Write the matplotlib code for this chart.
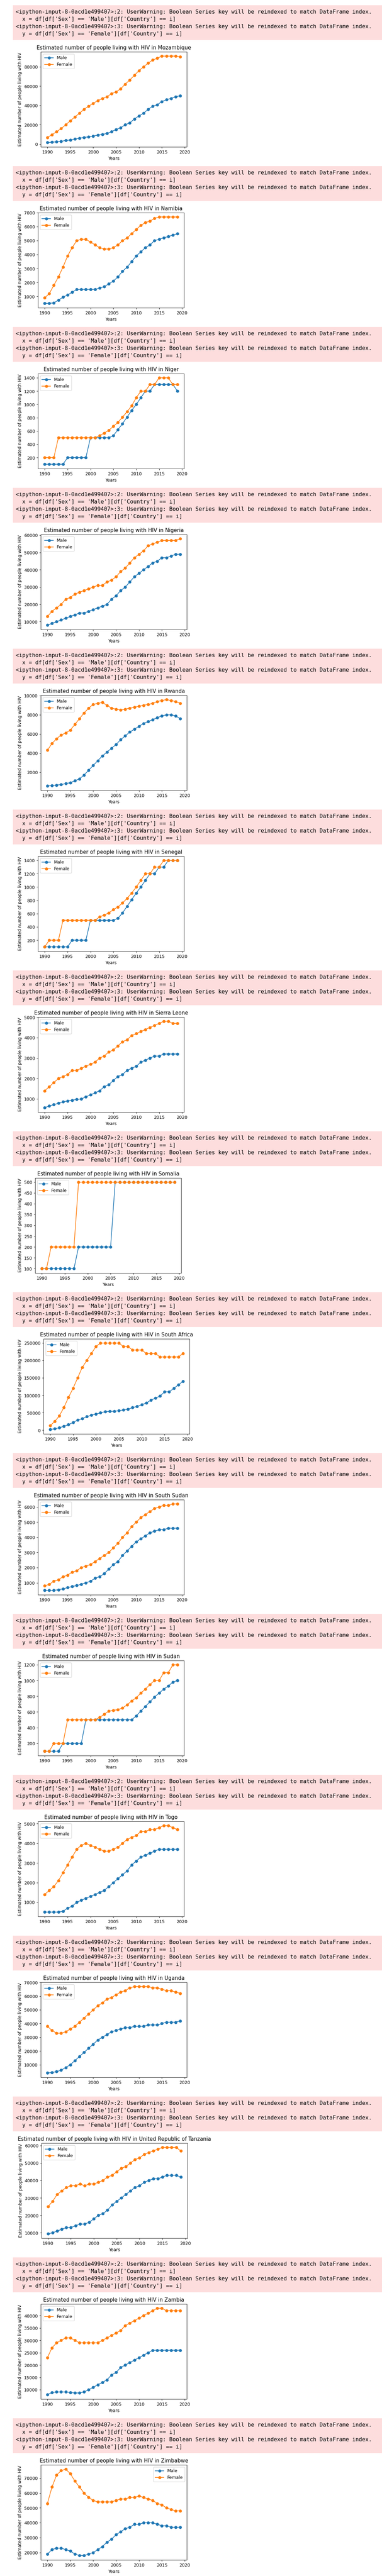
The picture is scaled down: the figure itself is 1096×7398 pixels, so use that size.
import matplotlib
matplotlib.use("Agg")
import matplotlib.pyplot as plt
from matplotlib.patches import Rectangle

# ---------------- data ----------------
years = [1990, 1991, 1992, 1993, 1994, 1995, 1996, 1997, 1998, 1999,
         2000, 2001, 2002, 2003, 2004, 2005, 2006, 2007, 2008, 2009,
         2010, 2011, 2012, 2013, 2014, 2015, 2016, 2017, 2018, 2019]

countries = ["Mozambique", "Namibia", "Niger", "Nigeria", "Rwanda", "Senegal",
             "Sierra Leone", "Somalia", "South Africa", "South Sudan", "Sudan",
             "Togo", "Uganda", "United Republic of Tanzania", "Zambia", "Zimbabwe"]

mozambique_male = [1600, 1900, 2400, 2900, 3700, 4200, 5200, 6000, 6900, 7500,
                   8300, 9300, 10000, 11000, 12800, 15100, 16900, 20000, 22000, 26000,
                   29200, 31900, 36000, 39100, 40800, 44000, 46000, 47300, 49000, 50000]
mozambique_female = [6900, 9700, 12800, 16000, 20000, 24100, 28100, 31900, 36000, 39200,
                     42200, 45000, 47200, 49100, 52100, 54100, 57200, 62100, 66400, 71200,
                     76100, 79900, 83900, 87000, 88900, 91100, 91100, 91100, 91100, 90300]

namibia_male = [500, 500, 540, 730, 950, 1100, 1300, 1500, 1500, 1500,
                1500, 1500, 1600, 1700, 1900, 2100, 2400, 2800, 3100, 3500,
                3900, 4200, 4500, 4700, 5000, 5100, 5200, 5300, 5400, 5500]
namibia_female = [900, 1200, 1800, 2400, 3100, 3900, 4500, 5000, 5100, 5100,
                  4900, 4700, 4500, 4400, 4400, 4500, 4700, 5000, 5200, 5500,
                  5800, 6100, 6300, 6400, 6600, 6700, 6700, 6700, 6700, 6700]

niger_male = [100, 100, 100, 100, 100, 200, 200, 200, 200, 200,
              500, 500, 500, 500, 500, 530, 620, 710, 810, 910,
              1000, 1100, 1200, 1200, 1300, 1300, 1300, 1300, 1300, 1200]
niger_female = [200, 200, 200, 500, 500, 500, 500, 500, 500, 500,
                500, 500, 530, 570, 610, 670, 730, 810, 890, 980,
                1100, 1200, 1200, 1300, 1300, 1400, 1400, 1400, 1300, 1300]

nigeria_male = [8000, 9000, 10000, 11000, 12000, 13000, 14000, 15000, 15000, 16000,
                17000, 18000, 19000, 20000, 23000, 25000, 28000, 30000, 33000, 36000,
                38000, 40000, 42000, 44000, 45000, 47000, 47000, 48000, 49000, 49000]
nigeria_female = [13000, 16000, 18000, 20000, 23000, 24000, 26000, 27000, 28000, 29000,
                  30000, 31000, 31000, 33000, 34000, 36000, 39000, 41000, 44000, 47000,
                  49000, 51000, 54000, 55000, 56000, 57000, 57000, 57000, 57000, 58000]

rwanda_male = [550, 600, 650, 700, 800, 900, 1100, 1300, 1700, 2200,
               2700, 3200, 3700, 4100, 4500, 4900, 5400, 5800, 6200, 6500,
               6800, 7100, 7300, 7500, 7700, 7900, 8000, 8000, 7900, 7600]
rwanda_female = [4300, 5000, 5500, 5900, 6100, 6400, 7000, 7600, 8200, 8700,
                 9100, 9200, 9300, 9000, 8700, 8600, 8500, 8600, 8700, 8800,
                 8900, 9000, 9100, 9200, 9400, 9500, 9600, 9500, 9400, 9200]

senegal_male = [100, 100, 100, 100, 100, 100, 200, 200, 200, 200,
                500, 500, 500, 500, 500, 500, 530, 610, 710, 810,
                910, 1000, 1100, 1200, 1200, 1300, 1300, 1400, 1400, 1400]
senegal_female = [100, 200, 200, 200, 500, 500, 500, 500, 500, 500,
                  500, 500, 550, 580, 610, 660, 700, 760, 830, 910,
                  1000, 1100, 1200, 1200, 1300, 1300, 1400, 1400, 1400, 1400]

sierra_leone_male = [570, 660, 720, 790, 860, 900, 940, 980, 1000, 1100,
                     1200, 1300, 1400, 1600, 1700, 1900, 2100, 2200, 2400, 2500,
                     2600, 2800, 2900, 3000, 3100, 3100, 3200, 3200, 3200, 3200]
sierra_leone_female = [1400, 1600, 1800, 2000, 2100, 2200, 2400, 2400, 2500, 2600,
                       2700, 2800, 3000, 3100, 3300, 3400, 3600, 3800, 3900, 4100,
                       4200, 4300, 4400, 4500, 4600, 4700, 4800, 4800, 4700, 4700]

somalia_male = [100, 100, 100, 100, 100, 100, 100, 100, 200, 200,
                200, 200, 200, 200, 200, 200, 500, 500, 500, 500,
                500, 500, 500, 500, 500, 500, 500, 500, 500, 500]
somalia_female = [100, 100, 200, 200, 200, 200, 200, 200, 500, 500,
                  500, 500, 500, 500, 500, 500, 500, 500, 500, 500,
                  500, 500, 500, 500, 500, 500, 500, 500, 500, 500]

south_africa_male = [2000, 4000, 7000, 11000, 16000, 22000, 29000, 33000, 39000, 43000,
                     46000, 50000, 53000, 54000, 54000, 56000, 58000, 60000, 65000, 68000,
                     73000, 78000, 86000, 92000, 98000, 110000, 110000, 120000, 130000, 140000]
south_africa_female = [13000, 25000, 41000, 65000, 94000, 120000, 150000, 180000, 200000, 220000,
                       240000, 250000, 250000, 250000, 250000, 250000, 240000, 240000, 230000, 230000,
                       230000, 220000, 220000, 220000, 210000, 210000, 210000, 210000, 210000, 220000]

south_sudan_male = [500, 500, 500, 540, 600, 680, 750, 820, 900, 1000,
                    1100, 1300, 1400, 1600, 1900, 2200, 2400, 2800, 3100, 3400,
                    3700, 3900, 4100, 4300, 4400, 4500, 4500, 4600, 4600, 4600]
south_sudan_female = [800, 900, 1100, 1200, 1400, 1500, 1700, 1800, 2000, 2100,
                      2200, 2400, 2600, 2800, 3000, 3300, 3600, 4000, 4300, 4700,
                      5000, 5300, 5500, 5700, 5900, 6000, 6100, 6100, 6200, 6200]

sudan_male = [100, 100, 100, 100, 200, 200, 200, 200, 200, 500,
              500, 500, 500, 500, 500, 500, 500, 500, 500, 500,
              550, 610, 670, 730, 790, 840, 890, 930, 980, 1000]
sudan_female = [100, 100, 200, 200, 200, 500, 500, 500, 500, 500,
                500, 500, 530, 570, 610, 620, 630, 650, 690, 740,
                780, 840, 890, 950, 1000, 1000, 1100, 1100, 1200, 1200]

togo_male = [500, 500, 500, 500, 540, 700, 800, 1000, 1100, 1200,
             1300, 1400, 1500, 1600, 1800, 2000, 2200, 2400, 2600, 2900,
             3100, 3300, 3400, 3500, 3600, 3700, 3700, 3700, 3700, 3700]
togo_female = [1400, 1600, 1800, 2100, 2500, 2900, 3300, 3700, 3900, 4000,
               3900, 3800, 3700, 3600, 3600, 3700, 3800, 4000, 4200, 4300,
               4400, 4600, 4600, 4700, 4700, 4800, 4900, 4900, 4800, 4700]

uganda_male = [4000, 4300, 5000, 6000, 8000, 10000, 13000, 16000, 19000, 22000,
               25000, 28000, 30000, 32000, 34000, 35000, 36000, 37000, 37000, 38000,
               38000, 38000, 39000, 39000, 39000, 40000, 41000, 41000, 41000, 42000]
uganda_female = [38000, 35000, 33000, 33000, 34000, 36000, 38000, 41000, 44000, 47000,
                 50000, 53000, 55000, 58000, 59000, 61000, 63000, 64000, 66000, 67000,
                 67000, 67000, 67000, 66000, 66000, 65000, 64000, 64000, 63000, 62000]

tanzania_male = [9400, 10000, 11000, 12000, 13000, 13000, 14000, 15000, 15000, 16000,
                 18000, 20000, 21000, 23000, 26000, 28000, 30000, 32000, 34000, 36000,
                 37000, 39000, 40000, 41000, 41000, 42000, 43000, 43000, 43000, 42000]
tanzania_female = [25000, 28000, 32000, 34000, 36000, 37000, 37000, 38000, 37000, 38000,
                   38000, 39000, 40000, 42000, 43000, 45000, 47000, 48000, 50000, 52000,
                   53000, 55000, 56000, 57000, 58000, 59000, 59000, 59000, 59000, 57000]

zambia_male = [8000, 8900, 9100, 9100, 9100, 8900, 8700, 8700, 9100, 10000,
               11000, 12000, 13000, 14000, 16000, 17000, 19000, 20000, 21000, 22000,
               23000, 24000, 25000, 26000, 26000, 26000, 26000, 26000, 26000, 26000]
zambia_female = [23000, 27000, 29000, 30000, 31000, 31000, 30000, 29000, 29000, 29000,
                 29000, 29000, 30000, 31000, 32000, 33000, 34000, 36000, 37000, 38000,
                 39000, 40000, 41000, 42000, 43000, 43000, 42000, 42000, 42000, 42000]

zimbabwe_male = [19000, 22000, 23000, 23000, 22000, 21000, 19000, 18000, 18000, 19000,
                 20000, 22000, 24000, 27000, 29000, 32000, 34000, 36000, 37000, 39000,
                 39000, 40000, 40000, 40000, 39000, 38000, 38000, 37000, 37000, 37000]
zimbabwe_female = [53000, 64000, 72000, 75000, 76000, 73000, 68000, 64000, 60000, 57000,
                   55000, 54000, 54000, 54000, 54000, 55000, 56000, 56000, 57000, 57000,
                   58000, 57000, 56000, 55000, 53000, 52000, 50000, 49000, 48000, 48000]

male_series = [mozambique_male, namibia_male, niger_male, nigeria_male, rwanda_male,
               senegal_male, sierra_leone_male, somalia_male, south_africa_male,
               south_sudan_male, sudan_male, togo_male, uganda_male, tanzania_male,
               zambia_male, zimbabwe_male]
female_series = [mozambique_female, namibia_female, niger_female, nigeria_female,
                 rwanda_female, senegal_female, sierra_leone_female, somalia_female,
                 south_africa_female, south_sudan_female, sudan_female, togo_female,
                 uganda_female, tanzania_female, zambia_female, zimbabwe_female]

warning_lines = [
    "<ipython-input-8-0acd1e499407>:2: UserWarning: Boolean Series key will be reindexed to match DataFrame index.",
    "  x = df[df['Sex'] == 'Male'][df['Country'] == i]",
    "<ipython-input-8-0acd1e499407>:3: UserWarning: Boolean Series key will be reindexed to match DataFrame index.",
    "  y = df[df['Sex'] == 'Female'][df['Country'] == i]",
]

# ---------------- layout ----------------
DPI = 72 * 1.24
W, H = 1096.3, 7398.3
fig = plt.figure(figsize=(W / DPI, H / DPI), dpi=DPI)
fig.patch.set_facecolor("white")

SEC0, PERIOD = 15, 462
AX_TOP, AX_H, AX_W = 134, 273, 419


def fx(px):
    return px / W


def fy(py):
    return 1 - py / H


axes = []
for k, country in enumerate(countries):
    top = SEC0 + PERIOD * k
    # stderr box
    fig.patches.append(Rectangle((fx(37), fy(top + 100)), fx(W - 37), 100 / H,
                                 transform=fig.transFigure, facecolor="#fddddd",
                                 edgecolor="none", zorder=0))
    for j, line in enumerate(warning_lines):
        fig.text(fx(45), fy(top + 24 + 21.1 * j), line, family="DejaVu Sans Mono",
                 fontsize=12.6, va="baseline", ha="left", color="black")

    ax = fig.add_axes([fx(120), fy(top + AX_TOP + AX_H), fx(AX_W), AX_H / H])
    ax.plot(years, male_series[k], marker="o", label="Male")
    ax.plot(years, female_series[k], marker="o", label="Female")
    ax.set_title("Estimated number of people living with HIV in " + country)
    ax.set_xlabel("Years")
    ax.set_ylabel("Estimated number of people living with HIV")
    ax.legend(loc="upper right" if country == "Zimbabwe" else "upper left")
    axes.append(ax)

fig.canvas.draw()
renderer = fig.canvas.get_renderer()
for ax in axes:
    bb = ax.get_tightbbox(renderer)
    dx = 51 - bb.x0
    pos = ax.get_position()
    ax.set_position([pos.x0 + dx / fig.bbox.width, pos.y0, pos.width, pos.height])

fig.savefig("out.png", dpi=DPI)
